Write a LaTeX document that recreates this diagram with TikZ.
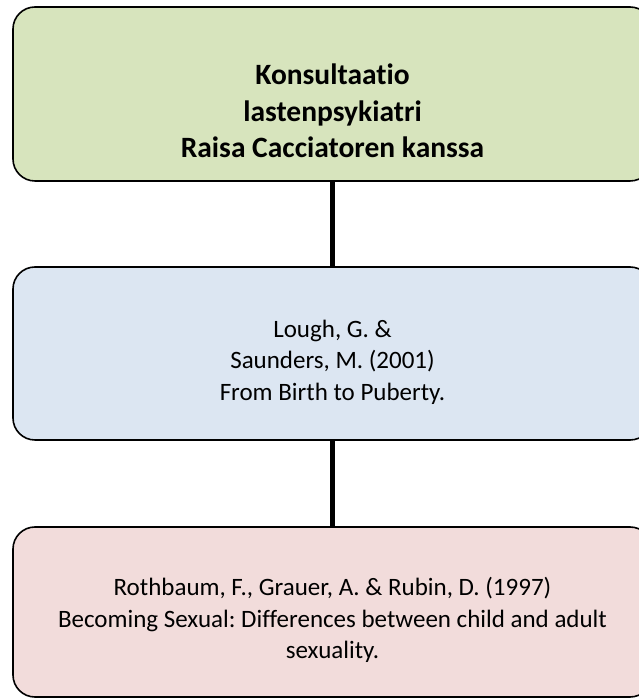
\documentclass[tikz,border=0pt]{standalone}
\usepackage{fontspec}
\setmainfont{Carlito}[Ligatures=NoCommon]
\frenchspacing
\definecolor{boxgreen}{HTML}{D7E4BD}
\definecolor{boxblue}{HTML}{DCE6F2}
\definecolor{boxpink}{HTML}{F2DCDB}
\tikzset{
  panel/.style={draw=black, line width=1.6pt, rounded corners=22pt, minimum width=639pt, inner sep=0pt},
  bodytext/.style={align=center, font=\fontsize{25}{31.5}\selectfont\frenchspacing, inner sep=0pt},
  titletext/.style={align=center, font=\fontsize{29.5}{36.5}\selectfont\bfseries\frenchspacing, inner sep=0pt},
  link/.style={line width=5pt, draw=black}
}
\begin{document}
\begin{tikzpicture}[x=1pt,y=1pt]
\useasboundingbox (0,0) rectangle (639,698);
\clip (0,0) rectangle (639,698);
\node[panel, fill=boxgreen, minimum height=174pt] (b1) at (332.5,604) {};
\node[panel, fill=boxblue, minimum height=173pt] (b2) at (332.5,344.5) {};
\node[panel, fill=boxpink, minimum height=170pt] (b3) at (332.5,86) {};
\draw[link] (b1.south) -- (b2.north);
\draw[link] (b2.south) -- (b3.north);
\node[titletext] (t1) at (332.5,586.8) {Konsultaatio\\lastenpsykiatri\\Raisa Cacciatoren kanssa};
\node[bodytext] (t2) at (332.5,336) {Lough, G. \&\\Saunders, M. (2001)\\From Birth to Puberty.};
\node[bodytext] (t3) at (332.5,77.7) {Rothbaum, F., Grauer, A. \& Rubin, D. (1997)\\Becoming Sexual: Differences between child and adult\\sexuality.};
\end{tikzpicture}
\end{document}
